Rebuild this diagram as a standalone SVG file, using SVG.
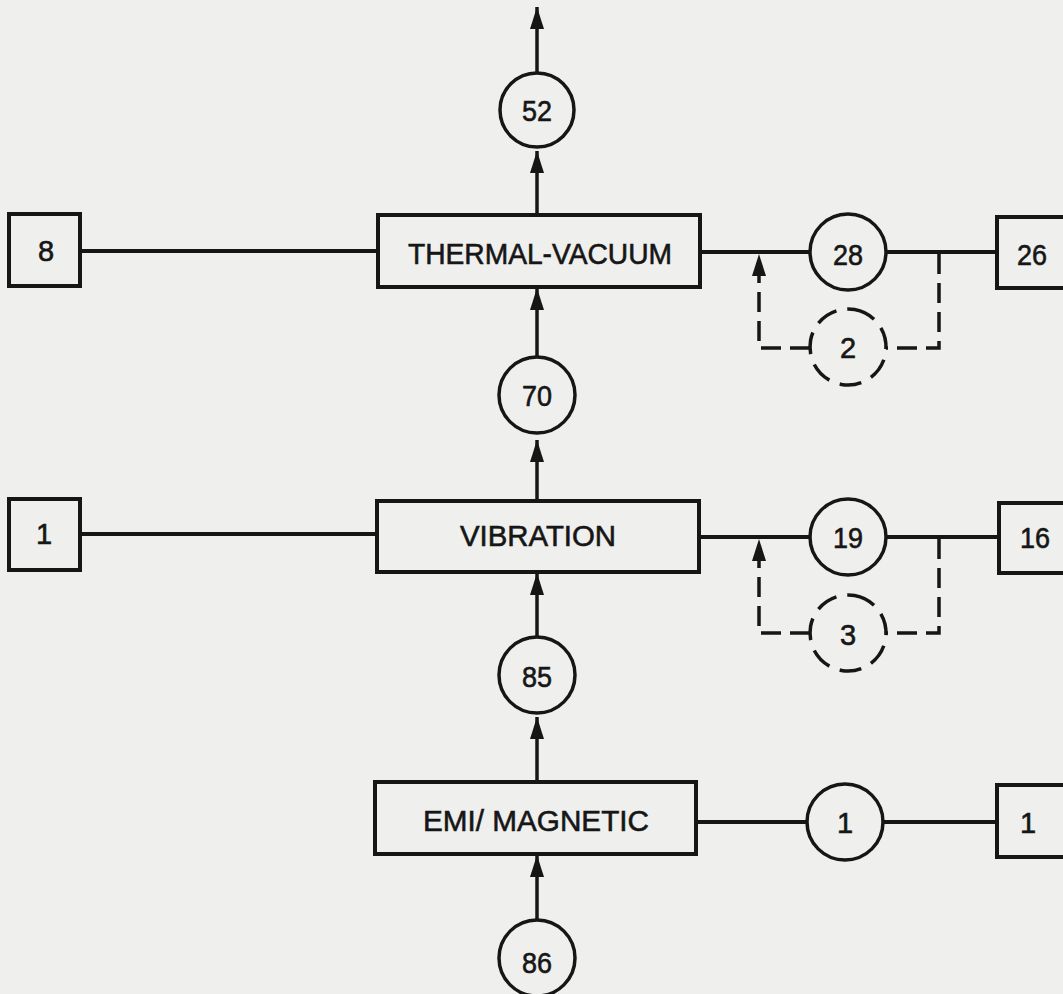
<svg xmlns="http://www.w3.org/2000/svg" width="1063" height="994" viewBox="0 0 1063 994">
<style>
.bg{fill:#efefed}
.box{fill:none;stroke:#161616;stroke-width:4}
.circ{fill:none;stroke:#161616;stroke-width:3.5}
.dcirc{fill:none;stroke:#161616;stroke-width:3.5;stroke-dasharray:22 11}
.ln{fill:none;stroke:#161616;stroke-width:4}
.arr{fill:none;stroke:#161616;stroke-width:3.5;marker-end:url(#ah)}
.dash{fill:none;stroke:#161616;stroke-width:3.5;stroke-dasharray:20 9}
.dasharr{fill:none;stroke:#161616;stroke-width:3.5;stroke-dasharray:20 9;marker-end:url(#ah)}
text{font-family:"Liberation Sans","DejaVu Sans",Arial,sans-serif;fill:#161616;stroke:#161616;stroke-width:0.6;text-anchor:middle}
.lbl{font-size:30px}
.num{font-size:29px}
</style>
<defs>
<marker id="ah" markerUnits="userSpaceOnUse" markerWidth="22" markerHeight="14" viewBox="0 0 22 14" refX="22" refY="7" orient="auto">
<path d="M0,0 L22,7 L0,14 z" fill="#161616"/>
</marker>
</defs>
<rect class="bg" x="0" y="0" width="1063" height="994"/>

<g id="connectors">
<path class="arr" d="M537,74 V7"/>
<path class="arr" d="M537,215 V151"/>
<path class="arr" d="M537,357 V288"/>
<path class="arr" d="M537,501 V440"/>
<path class="arr" d="M537,637 V573"/>
<path class="arr" d="M537,782 V717"/>
<path class="arr" d="M537,920 V855"/>
<path class="ln" d="M80,251 H378"/>
<path class="ln" d="M80,534 H377"/>
<path class="ln" d="M700,252 H810"/>
<path class="ln" d="M886,252 H997"/>
<path class="ln" d="M699,537 H810"/>
<path class="ln" d="M886,537 H999"/>
<path class="ln" d="M696,822 H807"/>
<path class="ln" d="M883,822 H997"/>
<path class="dash" d="M939,254 V348 H886"/>
<path class="dasharr" d="M810,348 H759 V254"/>
<path class="dash" d="M939,539 V633 H886"/>
<path class="dasharr" d="M810,633 H759 V539"/>
</g>

<g id="n52"><circle class="circ" cx="537" cy="110" r="37"/><text class="num" x="537" y="121" textLength="30" lengthAdjust="spacingAndGlyphs">52</text></g>
<g id="n8"><rect class="box" x="9" y="214" width="71" height="72"/><text class="num" x="46" y="261">8</text></g>
<g id="thermal-vacuum"><rect class="box" x="378" y="215" width="322" height="72"/><text class="lbl" x="540" y="264" textLength="264" lengthAdjust="spacingAndGlyphs">THERMAL-VACUUM</text></g>
<g id="n28"><circle class="circ" cx="848" cy="252" r="38"/><text class="num" x="848" y="265" textLength="30" lengthAdjust="spacingAndGlyphs">28</text></g>
<g id="n26"><rect class="box" x="997" y="217" width="80" height="71"/><text class="num" x="1032" y="265" textLength="30" lengthAdjust="spacingAndGlyphs">26</text></g>
<g id="n2"><circle class="dcirc" cx="848" cy="347" r="38" transform="rotate(-80 848 347)"/><text class="num" x="848" y="358">2</text></g>
<g id="n70"><circle class="circ" cx="537" cy="395" r="38"/><text class="num" x="537" y="406" textLength="30" lengthAdjust="spacingAndGlyphs">70</text></g>
<g id="n1a"><rect class="box" x="9" y="499" width="71" height="71"/><text class="num" x="44" y="544">1</text></g>
<g id="vibration"><rect class="box" x="377" y="501" width="322" height="71"/><text class="lbl" x="538" y="546" textLength="156" lengthAdjust="spacingAndGlyphs">VIBRATION</text></g>
<g id="n19"><circle class="circ" cx="848" cy="537" r="38"/><text class="num" x="848" y="548" textLength="30" lengthAdjust="spacingAndGlyphs">19</text></g>
<g id="n16"><rect class="box" x="999" y="503" width="80" height="70"/><text class="num" x="1035" y="548" textLength="30" lengthAdjust="spacingAndGlyphs">16</text></g>
<g id="n3"><circle class="dcirc" cx="848" cy="633" r="38" transform="rotate(-80 848 633)"/><text class="num" x="848" y="645">3</text></g>
<g id="n85"><circle class="circ" cx="537" cy="675" r="38"/><text class="num" x="537" y="687" textLength="30" lengthAdjust="spacingAndGlyphs">85</text></g>
<g id="emi-magnetic"><rect class="box" x="375" y="782" width="321" height="72"/><text class="lbl" x="536" y="831" textLength="226" lengthAdjust="spacingAndGlyphs">EMI/ MAGNETIC</text></g>
<g id="n1b"><circle class="circ" cx="845" cy="822" r="38"/><text class="num" x="845" y="833">1</text></g>
<g id="n1c"><rect class="box" x="997" y="785" width="80" height="72"/><text class="num" x="1028" y="833">1</text></g>
<g id="n86"><circle class="circ" cx="537" cy="958" r="38"/><text class="num" x="537" y="973" textLength="30" lengthAdjust="spacingAndGlyphs">86</text></g>
</svg>
